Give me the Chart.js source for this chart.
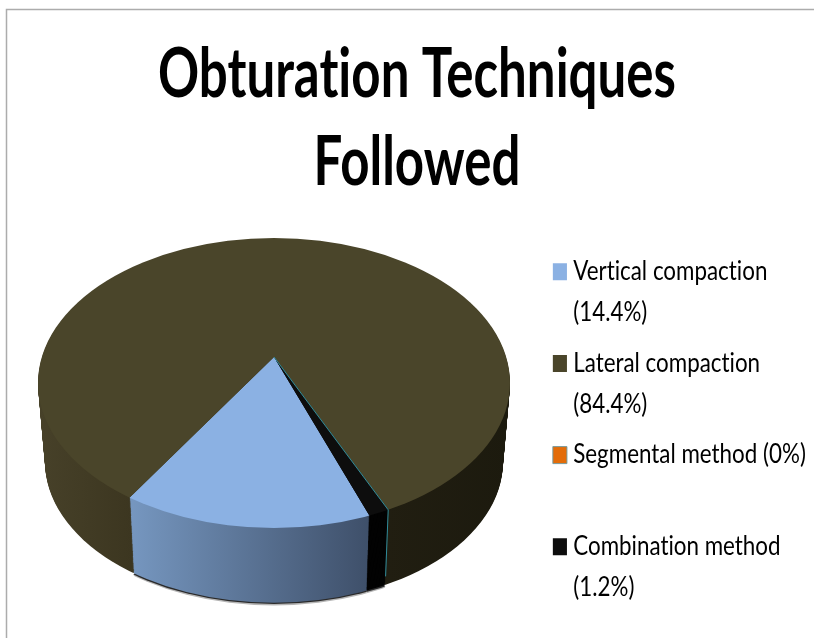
<!DOCTYPE html>
<html><head><meta charset="utf-8">
<style>html,body{margin:0;padding:0;background:#fff}canvas{display:block}</style>
<script src="https://cdn.jsdelivr.net/npm/chart.js@4"></script></head>
<body><canvas id="c" width="814" height="638"></canvas>
<script>
const titleLines = ["Obturation Techniques", "Followed"];
const categories = ["Vertical compaction", "Lateral compaction", "Segmental method", "Combination method"];
const legendLines = [["Vertical compaction", "(14.4%)"], ["Lateral compaction", "(84.4%)"], ["Segmental method (0%)", ""], ["Combination method", "(1.2%)"]];
const values = [14.4, 84.4, 0, 1.2];
const colors = ["#8BB1E3", "#4A452A", "#E36C09", "#0D0D0D"];

// projection of the flat pie onto the tilted 3D view
const APEX = {x: 274, y: 357}, ELL = {cx: 274, cy: 383, rx: 236, ry: 145};
const DEPTH = 79, SQUASH = 0.605, REACH = 330, TAPER = 0.03;

function sideStyle(ctx, i, arc, sx) {
  const lx = p => arc.x + (p - APEX.x) / sx;
  if (i === 0) {
    const g = ctx.createLinearGradient(lx(130), 0, lx(370), 0);
    g.addColorStop(0, "#7697C0"); g.addColorStop(1, "#3E4F69"); return g;
  }
  if (i === 1) {
    const g = ctx.createLinearGradient(lx(38), 0, lx(510), 0);
    g.addColorStop(0, "#474129"); g.addColorStop(0.2, "#3C3620"); g.addColorStop(0.74, "#211E11"); g.addColorStop(1, "#1C1A0E"); return g;
  }
  return i === 3 ? "#030303" : colors[i];
}
function paint(ctx, arcs, d, styleFor) {
  const f = 1 - TAPER * d / DEPTH, r = arcs[0].outerRadius, sx = REACH / r * f;
  ctx.save();
  ctx.beginPath();
  ctx.ellipse(ELL.cx, ELL.cy + d, ELL.rx * f, ELL.ry * f, 0, 0, Math.PI * 2);
  ctx.clip();
  ctx.translate(APEX.x, APEX.y + d);
  ctx.scale(sx, sx * SQUASH);
  ctx.translate(-arcs[0].x, -arcs[0].y);
  arcs.forEach((arc, i) => {
    const fill = styleFor(i, arc, sx);
    if (!fill) return;
    const a = Object.create(arc);
    a.options = Object.assign({}, arc.options, {backgroundColor: fill, borderWidth: 0});
    a.draw(ctx);
  });
  ctx.restore();
}
function rimPoint(angle, d) {
  const f = 1 - TAPER * d / DEPTH;
  const ux = Math.cos(angle), uy = Math.sin(angle) * SQUASH;
  const ox = (APEX.x - ELL.cx) / (ELL.rx * f), oy = (APEX.y - ELL.cy) / (ELL.ry * f);
  const vx = ux / (ELL.rx * f), vy = uy / (ELL.ry * f);
  const A = vx * vx + vy * vy, B = 2 * (ox * vx + oy * vy), C = ox * ox + oy * oy - 1;
  const t = (-B + Math.sqrt(B * B - 4 * A * C)) / (2 * A);
  return {x: APEX.x + t * ux, y: APEX.y + d + t * uy};
}
const pie3d = {
  id: "pie3d",
  beforeLayout(chart) {
    if (chart.$wrapped) return;
    chart.$wrapped = true;
    const ctx = chart.ctx, t = chart.titleBlock, l = chart.legend;
    const td = t.draw, ld = l.draw;
    t.draw = function () {
      ctx.save();
      ctx.letterSpacing = "0.01px";
      const mid = (this.left + this.right) / 2;
      ctx.translate(417, 1); ctx.scale(0.75, 1); ctx.translate(-mid, 0);
      td.call(this);
      ctx.restore();
    };
    l.draw = function () {
      ctx.save();
      ctx.letterSpacing = "0.01px";
      ctx.translate(539.6, 249); ctx.scale(0.86, 1); ctx.translate(-this.left, -this.top);
      // the swatch sits closer to its text than the library's fixed gap
      const rect = ctx.rect;
      ctx.rect = (x, y, w, h) => rect.call(ctx, x + 5.7, y, w, h);
      ld.call(this);
      delete ctx.rect;
      ctx.restore();
    };
  },
  beforeDraw(chart) {
    const ctx = chart.ctx;
    ctx.save();
    ctx.strokeStyle = "#ACACAC"; ctx.lineWidth = 1.5;
    ctx.beginPath(); ctx.moveTo(6.5, 638); ctx.lineTo(6.5, 9.5); ctx.lineTo(814, 9.5); ctx.stroke();
    ctx.restore();
  },
  beforeDatasetsDraw(chart) {
    const ctx = chart.ctx, arcs = chart.getDatasetMeta(0).data;
    paint(ctx, arcs, DEPTH + 3, i => (i === 0 || i === 3) ? "#B5B5B5" : null);
    paint(ctx, arcs, DEPTH + 1.5, i => (i === 0 || i === 3) ? "#2A2A2A" : null);
    for (let d = DEPTH; d > 0; d--) paint(ctx, arcs, d, (i, arc, sx) => sideStyle(ctx, i, arc, sx));
    paint(ctx, arcs, 0, i => colors[i]);
    const angle = arcs[1].endAngle, a = rimPoint(angle, 0), b = rimPoint(angle, 70);
    ctx.save();
    ctx.strokeStyle = "#2F8C9C"; ctx.lineWidth = 1;
    ctx.beginPath(); ctx.moveTo(APEX.x, APEX.y); ctx.lineTo(a.x, a.y); ctx.lineTo(b.x, b.y); ctx.stroke();
    ctx.restore();
    return false;
  }
};
new Chart(document.getElementById("c"), {
  type: "pie",
  plugins: [pie3d],
  data: {labels: categories, datasets: [{data: values, backgroundColor: colors, borderWidth: 0}]},
  options: {
    responsive: false, animation: false, rotation: 160,
    plugins: {
      tooltip: {enabled: false},
      title: {display: true, text: titleLines, color: "#000",
        font: {family: "Lato", size: 68, weight: "bold", lineHeight: 88 / 68},
        padding: {top: 30, bottom: 0}},
      legend: {position: "right", align: "start", labels: {
        color: "#111", font: {family: "Lato", size: 26, lineHeight: 41 / 26},
        boxWidth: 16.4, boxHeight: 17, padding: 9.7,
        generateLabels: () => legendLines.map((text, i) => ({text, fillStyle: colors[i], strokeStyle: i === 2 ? "#6F9AA0" : colors[i], lineWidth: i === 2 ? 1 : 0, hidden: false, index: i}))
      }}
    }
  }
});
</script></body></html>
